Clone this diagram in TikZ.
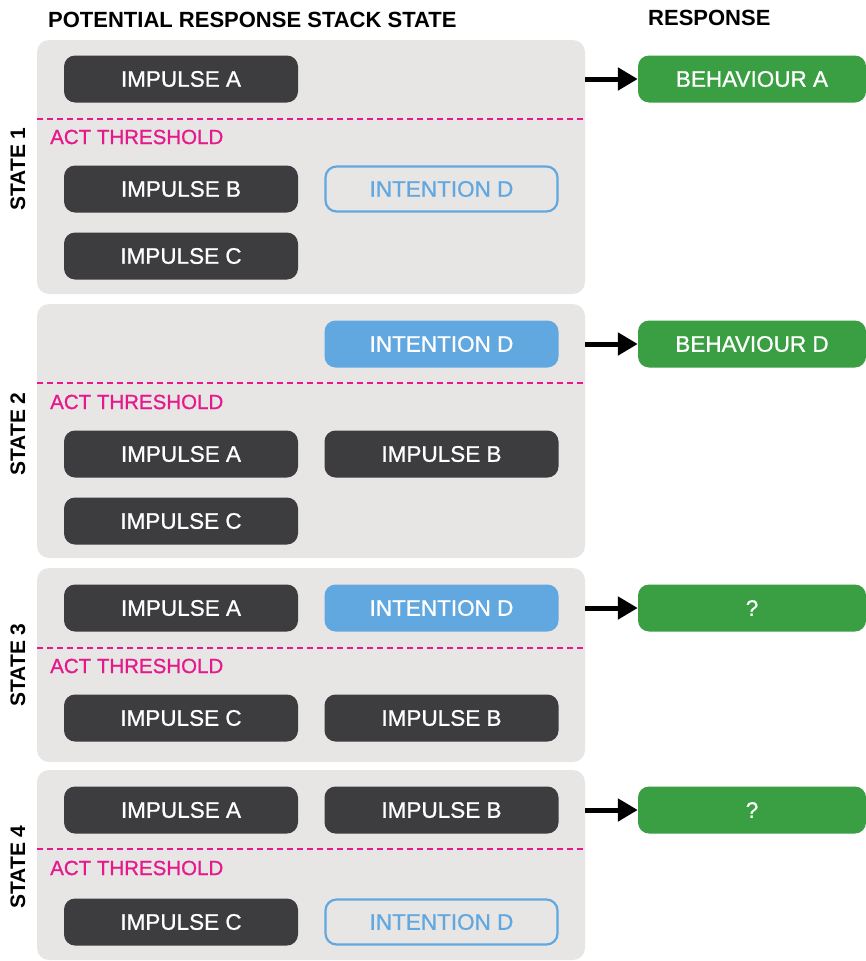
\documentclass[tikz,border=0pt]{standalone}
\usepackage{fontspec}
\setmainfont{Liberation Sans}
\newfontfamily\boxfont[FakeBold=0.9]{Liberation Sans}
\usetikzlibrary{arrows.meta}
\definecolor{panelgray}{HTML}{E8E6E5}
\definecolor{darkbox}{HTML}{3D3C3E}
\definecolor{bluebox}{HTML}{62A8E0}
\definecolor{greenbox}{HTML}{3A9E42}
\definecolor{threshpink}{HTML}{E6198C}
\tikzset{
  panel/.style={fill=panelgray, draw=none, rounded corners=12pt},
  boxtext/.style={font=\boxfont\fontsize{22.5}{26}\selectfont},
  impulse/.style={boxtext, fill=darkbox, text=white, rounded corners=11pt, minimum width=234pt, minimum height=47pt, inner sep=0pt},
  intentfill/.style={boxtext, fill=bluebox, text=white, rounded corners=11pt, minimum width=234pt, minimum height=47pt, inner sep=0pt},
  intentline/.style={boxtext, draw=bluebox, line width=2.2pt, text=bluebox, rounded corners=11pt, minimum width=232pt, minimum height=45pt, inner sep=0pt},
  resp/.style={boxtext, fill=greenbox, text=white, rounded corners=11pt, minimum width=228pt, minimum height=47pt, inner sep=0pt},
  thresh/.style={draw=threshpink, line width=1.6pt, dash pattern=on 6pt off 4pt},
  threshlabel/.style={text=threshpink, anchor=west, inner sep=0pt, font=\boxfont\fontsize{20.5}{24}\selectfont},
  header/.style={inner sep=0pt, font=\bfseries\fontsize{22}{26}\selectfont},
  statelabel/.style={inner sep=0pt, rotate=90, font=\bfseries\fontsize{21}{24}\selectfont},
  respar/.style={line width=5pt, -{Triangle[length=20pt,width=22pt]}}
}
\begin{document}
\begin{tikzpicture}[x=1pt,y=-1pt]
\useasboundingbox (0,0) rectangle (866,961);
% headers
\node[header, anchor=west] (h1) at (48,20) {POTENTIAL RESPONSE STACK STATE};
\node[header, anchor=west] (h2) at (648,18) {RESPONSE};
% panels
\fill[panel] (37,40) rectangle (585,294);
\fill[panel] (37,304) rectangle (585,558);
\fill[panel] (37,568) rectangle (585,762);
\fill[panel] (37,770) rectangle (585,960);
% state labels
\node[statelabel] (s1) at (18,169) {STATE 1};
\node[statelabel] (s2) at (18,434) {STATE 2};
\node[statelabel] (s3) at (18,665) {STATE 3};
\node[statelabel] (s4) at (18,867) {STATE 4};
% thresholds
\draw[thresh] (37,119) -- (585,119);
\draw[thresh] (37,383) -- (585,383);
\draw[thresh] (37,648) -- (585,648);
\draw[thresh] (37,849) -- (585,849);
\node[threshlabel] (t1) at (50,137) {ACT THRESHOLD};
\node[threshlabel] (t2) at (50,402) {ACT THRESHOLD};
\node[threshlabel] (t3) at (50,666) {ACT THRESHOLD};
\node[threshlabel] (t4) at (50,868) {ACT THRESHOLD};
% state 1
\node[impulse] (a1) at (181,79) {IMPULSE A};
\node[impulse] (b1) at (181,189) {IMPULSE B};
\node[intentline] (d1) at (441.5,189) {INTENTION D};
\node[impulse] (c1) at (181,256) {IMPULSE C};
% state 2
\node[intentfill] (d2) at (441.5,344) {INTENTION D};
\node[impulse] (a2) at (181,454) {IMPULSE A};
\node[impulse] (b2) at (441.5,454) {IMPULSE B};
\node[impulse] (c2) at (181,521) {IMPULSE C};
% state 3
\node[impulse] (a3) at (181,608) {IMPULSE A};
\node[intentfill] (d3) at (441.5,608) {INTENTION D};
\node[impulse] (c3) at (181,718) {IMPULSE C};
\node[impulse] (b3) at (441.5,718) {IMPULSE B};
% state 4
\node[impulse] (a4) at (181,810) {IMPULSE A};
\node[impulse] (b4) at (441.5,810) {IMPULSE B};
\node[impulse] (c4) at (181,922) {IMPULSE C};
\node[intentline] (d4) at (441.5,922) {INTENTION D};
% responses
\node[resp] (r1) at (752,79) {BEHAVIOUR A};
\node[resp] (r2) at (752,344) {BEHAVIOUR D};
\node[resp] (r3) at (752,608) {?};
\node[resp] (r4) at (752,810) {?};
% arrow start points
\coordinate (p1) at (585,79);
\coordinate (p2) at (585,344);
\coordinate (p3) at (585,608);
\coordinate (p4) at (585,810);
\draw[respar] (p1) -- (r1.west);
\draw[respar] (p2) -- (r2.west);
\draw[respar] (p3) -- (r3.west);
\draw[respar] (p4) -- (r4.west);
\end{tikzpicture}
\end{document}
